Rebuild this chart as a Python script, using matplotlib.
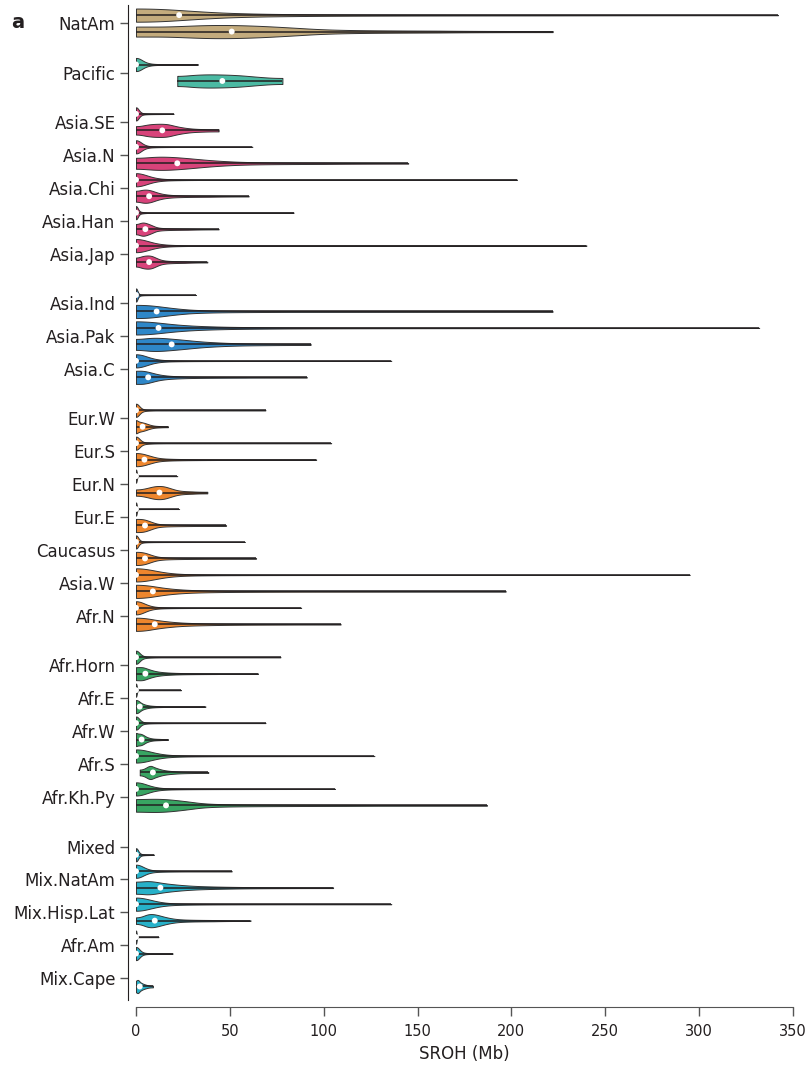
import math
import numpy as np
import matplotlib
matplotlib.use("Agg")
import matplotlib.pyplot as plt

# populations, grouped by region (top to bottom)
populations = ["NatAm",
               "Pacific",
               "Asia.SE", "Asia.N", "Asia.Chi", "Asia.Han", "Asia.Jap",
               "Asia.Ind", "Asia.Pak", "Asia.C",
               "Eur.W", "Eur.S", "Eur.N", "Eur.E", "Caucasus", "Asia.W", "Afr.N",
               "Afr.Horn", "Afr.E", "Afr.W", "Afr.S", "Afr.Kh.Py",
               "Mixed", "Mix.NatAm", "Mix.Hisp.Lat", "Afr.Am", "Mix.Cape"]
group_sizes = [1, 1, 5, 3, 7, 5, 5]
group_colors = ["#c3ab7d", "#4bbaa3", "#d8437a", "#2e87c8", "#ee862d", "#38a462", "#27b1c9"]

# SROH (Mb) quantiles at these probabilities: min, p10, q1, median, q3, p90, max
probs = [0, 0.1, 0.25, 0.5, 0.75, 0.9, 1.0]

upper_q = [
    [0, 5, 12, 23, 45, 95, 342],
    [0, 0, 0, 0, 4, 10, 33],
    [0, 0, 0, 0, 1.7, 4.5, 20],
    [0, 0, 0, 0, 3.3, 9, 62],
    [0, 0, 0, 0, 7, 18, 203],
    [0, 0, 0, 0, 1.2, 3.2, 84],
    [0, 0, 0, 0, 8, 22, 240],
    [0, 0, 0, 0, 0.9, 2.4, 32],
    [0, 2.5, 6, 12, 30, 70, 332],
    [0, 0, 0, 0, 7, 18, 136],
    [0, 0, 0, 0, 2, 5.3, 69],
    [0, 0, 0, 0, 2.2, 6, 104],
    [0, 0, 0, 0, 0, 0.5, 22],
    [0, 0, 0, 0, 0, 0.5, 23],
    [0, 0, 0, 0, 1.4, 3.8, 58],
    [0, 0, 0, 0, 12, 33, 295],
    [0, 0, 0, 0, 5.4, 14, 88],
    [0, 0, 0, 0, 2.2, 6, 77],
    [0, 0, 0, 0, 0, 0.5, 24],
    [0, 0, 0, 0, 2, 5.3, 69],
    [0, 0, 0, 0, 9.6, 26, 127],
    [0, 0, 0, 0, 7, 18, 106],
    None,
    [0, 0, 0, 0, 4.8, 13, 51],
    [0, 0, 0, 0, 9.6, 26, 136],
    [0, 0, 0, 0, 0, 0.4, 12],
    None,
]

lower_q = [
    [0, 12, 30, 51, 75, 100, 222],
    [22, 28, 35, 46, 58, 68, 78],
    [0, 4, 8, 14, 20, 28, 44],
    [0, 6, 12, 22, 36, 55, 145],
    [0, 2, 4, 7, 11, 18, 60],
    [0, 1.5, 3, 5, 8, 11, 44],
    [0, 2, 4, 7, 10, 14, 38],
    [0, 3, 6, 11, 20, 36, 222],
    [0, 5, 10, 19, 32, 50, 93],
    [0, 2, 3.5, 6.5, 12, 25, 91],
    [0, 0.5, 1.5, 3.5, 6, 9, 17],
    [0, 1, 2.5, 4.5, 8, 13, 96],
    [0, 4, 8, 12.5, 17, 22, 38],
    [0, 1, 2.5, 4.8, 8, 12, 48],
    [0, 1, 2.5, 4.8, 8, 13, 64],
    [0, 2, 5, 9, 19, 40, 197],
    [0, 2, 5, 10, 22, 48, 109],
    [0, 1.5, 3, 5, 10, 20, 65],
    [0, 0.5, 1, 2, 5, 10, 37],
    [0, 0.5, 1.5, 3, 5, 8, 17],
    [2, 5, 7, 9, 14, 22, 38.5],
    [0, 4, 9, 16, 26, 36, 187],
    [0, 0, 0, 0, 1.4, 3.8, 9.5],
    [0, 4, 7, 13, 28, 55, 105],
    [0, 4, 6.5, 10, 15, 22, 61],
    [0, 0, 0, 0, 2.2, 6, 19.5],
    [0, 0.5, 1, 2, 4, 6, 9],
]

erf = np.vectorize(math.erf)


def cdf(z):
    return 0.5 * (1 + erf(z / math.sqrt(2)))


def piece_density(xs, q, h):
    # piecewise uniform density between quantiles (point masses where they
    # coincide), blurred with a width that follows the local quantile spacing
    q = np.asarray(q, float)
    mass = np.diff(probs)
    lo, hi = q[:-1], q[1:]
    wide = hi - lo > 1e-9
    mids, widths = (lo + hi)[wide] / 2, (hi - lo)[wide]
    s = np.hypot(0.4 * np.interp(xs, mids, widths), h)
    s = np.maximum(s, 0.3)
    dens = np.zeros_like(xs)
    for m, a, b, w in zip(mass, lo, hi, wide):
        if w:
            dens += m * (cdf((b - xs) / s) - cdf((a - xs) / s)) / (b - a)
        else:
            gaps = q[q > a + 1e-9] - a
            sp = max(0.8 * gaps[0] if len(gaps) else 0.3, 0.3)
            dens += m * np.exp(-0.5 * ((xs - a) / sp) ** 2) / (sp * math.sqrt(2 * math.pi))
    return dens


def violin_stats(q, npts=500):
    qa = np.asarray(q, float)
    mass = np.diff(probs)
    a, b = qa[:-1], qa[1:]
    mean = np.sum(mass * (a + b) / 2)
    std = math.sqrt(max(np.sum(mass * (a * a + a * b + b * b) / 3) - mean ** 2, 0))
    h = 0.2 * std
    lo, hi = qa[0], qa[-1]
    xs = np.linspace(lo, hi, npts)
    # fold back what spills past min and max
    dens = (piece_density(xs, qa, h) + piece_density(2 * lo - xs, qa, h)
            + piece_density(2 * hi - xs, qa, h))
    return dict(coords=xs, vals=dens, mean=mean, median=qa[3], min=lo, max=hi)


# y positions: one row per population, half a row extra between groups
positions, colors = [], []
pos = 0.0
for size, col in zip(group_sizes, group_colors):
    for _ in range(size):
        positions.append(pos)
        colors.append(col)
        pos += 1
    pos += 0.5

fig = plt.figure(figsize=(8.08, 10.71), dpi=100)
ax = fig.add_axes([0.1683, 0.0663, 0.8131, 0.929])

stats, vpos, vcol = [], [], []
for p, c, uq, lq in zip(positions, colors, upper_q, lower_q):
    if uq is not None:
        stats.append(violin_stats(uq))
        vpos.append(p - 0.25)
        vcol.append(c)
    stats.append(violin_stats(lq))
    vpos.append(p + 0.25)
    vcol.append(c)

parts = ax.violin(stats, positions=vpos, orientation="horizontal", widths=0.4,
                  showmeans=False, showextrema=False, showmedians=False)
for body, c in zip(parts["bodies"], vcol):
    body.set_facecolor(c)
    body.set_edgecolor("#333333")
    body.set_linewidth(0.7)
    body.set_alpha(1)

for st, yp in zip(stats, vpos):
    ax.hlines(yp, st["min"], st["max"], color="#231f20", lw=1.1, zorder=3)
    ax.scatter(st["median"], yp, s=18, color="white", edgecolors="none", zorder=4)

ax.set_xlim(0, 350)
ax.set_ylim(29.66, -0.556)
ax.set_xticks(np.arange(0, 351, 50))
ax.set_yticks(positions)
ax.set_yticklabels(populations)
ax.tick_params(axis="y", length=6, width=1, color="#555555", pad=3, labelsize=12,
               labelcolor="#231f20")
ax.tick_params(axis="x", length=6.5, width=1, color="#555555", pad=6, labelsize=10.5,
               labelcolor="#231f20")
ax.set_xlabel("SROH (Mb)", fontsize=12, color="#231f20", labelpad=4)

for side in ["top", "right"]:
    ax.spines[side].set_visible(False)
ax.spines["left"].set_position(("outward", 5.8))
ax.spines["bottom"].set_position(("outward", 5))
ax.spines["left"].set_color("#231f20")
ax.spines["bottom"].set_color("#555555")

fig.text(11 / 808, 1 - 22 / 1071, "a", fontsize=14, fontweight="bold", va="center",
         color="#231f20")

fig.savefig("out.png", dpi=100)
